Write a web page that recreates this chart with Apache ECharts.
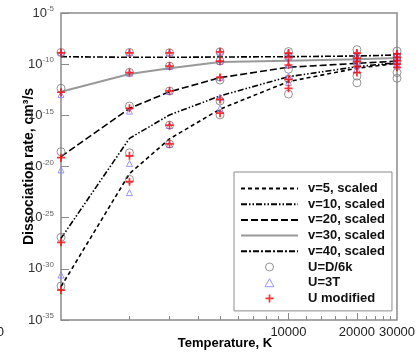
<!DOCTYPE html>
<html>
<head>
<meta charset="utf-8">
<script src="https://cdn.jsdelivr.net/npm/echarts@6/dist/echarts.min.js"></script>
<style>
  html, body { margin: 0; padding: 0; background: #fff; }
  #chart { width: 420px; height: 354px; }
</style>
</head>
<body>
<div id="chart"></div>
<script>
// Temperatures, K
const temperatures = [1000, 2000, 3000, 5000, 10000, 20000, 30000];

// Scaled dissociation-rate curves, cm^3/s, one per vibrational level
const scaledV5  = [1.8e-32, 2.0e-21, 5.0e-18, 4.0e-15, 2.0e-12, 4.0e-11, 1.2e-10];
const scaledV10 = [9.5e-28, 5.6e-18, 1.1e-15, 7.9e-14, 6.0e-12, 5.6e-11, 1.4e-10];
const scaledV20 = [9.1e-20, 4.8e-15, 2.0e-13, 4.8e-12, 5.0e-11, 1.2e-10, 2.0e-10];
const scaledV30 = [2.0e-13, 1.1e-11, 4.0e-11, 1.6e-10, 2.2e-10, 3.0e-10, 4.0e-10];
const scaledV40 = [5.4e-10, 4.7e-10, 4.7e-10, 5.0e-10, 5.4e-10, 6.3e-10, 7.9e-10];

// Rates with U = D/6k
const udV5  = [2.1e-32, 5.6e-22, 1.6e-18, 1.1e-15, 1.2e-13, 1.5e-12, 4.2e-12];
const udV10 = [1.2e-27, 2.2e-19, 1.1e-16, 2.5e-14, 3.5e-12, 6.9e-12, 1.5e-11];
const udV20 = [2.8e-19, 8.1e-15, 2.4e-13, 2.8e-12, 3.2e-11, 1.6e-10, 2.0e-10];
const udV30 = [4.4e-13, 1.6e-11, 6.6e-11, 2.0e-10, 5.5e-10, 4.0e-10, 5.0e-10];
const udV40 = [1.4e-9, 1.4e-9, 1.3e-9, 1.6e-9, 1.7e-9, 2.6e-9, 1.9e-9];

// Rates with U = 3T
const u3tV5  = [2.5e-31, 2.8e-23, 1.4e-18, 4.9e-15, 1.6e-12, 3.2e-11, 7.9e-11];
const u3tV10 = [null, 2.0e-20, 1.0e-16, 5.8e-14, 6.3e-12, 7.9e-11, 1.3e-10];
const u3tV20 = [4.6e-21, 2.6e-15, 2.2e-13, 5.0e-12, 8.3e-11, 2.0e-10, 2.5e-10];
const u3tV30 = [1.1e-13, 1.3e-11, 6.0e-11, 1.9e-10, 5.0e-10, 4.5e-10, 5.0e-10];
const u3tV40 = [1.3e-9, 1.3e-9, 1.3e-9, 1.5e-9, 1.3e-9, 1.3e-9, 1.1e-9];

// Rates with modified U
const umodV5  = [8.5e-33, 3.3e-22, 1.6e-18, 1.6e-15, 4.4e-13, 1.5e-11, 4.9e-11];
const umodV10 = [3.9e-28, 1.1e-19, 1.1e-16, 3.6e-14, 3.3e-12, 5.8e-11, 1.0e-10];
const umodV20 = [7.2e-20, 4.8e-15, 2.4e-13, 5.0e-12, 8.3e-11, 1.8e-10, 2.2e-10];
const umodV30 = [1.8e-13, 1.5e-11, 6.6e-11, 2.0e-10, 4.5e-10, 3.9e-10, 4.7e-10];
const umodV40 = [1.3e-9, 1.3e-9, 1.3e-9, 1.6e-9, 1.2e-9, 1.2e-9, 1.0e-9];

const curveNames = ['v=5, scaled', 'v=10, scaled', 'v=20, scaled', 'v=30, scaled', 'v=40, scaled'];
const markerNames = ['U=D/6k', 'U=3T', 'U modified'];

// Axis ticks and labels
const xLabelValues = [1000, 10000, 20000, 30000];
const xMinorTicks = [2000, 3000, 4000, 5000, 6000, 7000, 8000, 9000,
                     12000, 14000, 16000, 18000, 22000, 24000, 26000, 28000];
const xMajorTicks = [10000, 20000];
const yLabelValues = [1e-35, 1e-30, 1e-25, 1e-20, 1e-15, 1e-10, 1e-5];

const FONT = '"Liberation Sans", Arial, Helvetica, sans-serif';
const GRAY = '#8a8a8a';

const toPoints = vals => temperatures
  .map((t, i) => [t, vals[i]])
  .filter(p => p[1] != null);

const curveSets = [scaledV5, scaledV10, scaledV20, scaledV30, scaledV40];
const curveStyles = [
  { color: '#000', width: 1.6, type: [4, 3] },
  { color: '#000', width: 1.6, type: [6, 2, 1.5, 2, 1.5, 2] },
  { color: '#000', width: 1.6, type: [7, 3] },
  { color: '#999', width: 2, type: 'solid' },
  { color: '#000', width: 1.6, type: [6, 2, 2, 2] }
];

const curveSeries = curveSets.map((vals, i) => ({
  name: curveNames[i],
  type: 'line',
  xAxisIndex: 0,
  data: toPoints(vals),
  symbol: 'none',
  silent: true,
  z: 2,
  lineStyle: curveStyles[i],
  itemStyle: { color: curveStyles[i].color }
}));

const collect = sets => sets.reduce((acc, s) => acc.concat(toPoints(s)), []);

const PLUS = 'path://M3.6,0H5.6V3.6H9.2V5.6H5.6V9.2H3.6V5.6H0V3.6H3.6Z';
const TRIANGLE = 'path://M5,0L10,9H0Z';

const markerSeries = [
  {
    name: markerNames[0], type: 'scatter', xAxisIndex: 0, z: 3,
    data: collect([udV5, udV10, udV20, udV30, udV40]),
    symbol: 'circle', symbolSize: 8,
    itemStyle: { color: 'transparent', borderColor: '#7a7a7a', borderWidth: 1 }
  },
  {
    name: markerNames[1], type: 'scatter', xAxisIndex: 0, z: 4,
    data: collect([u3tV5, u3tV10, u3tV20, u3tV30, u3tV40]),
    symbol: TRIANGLE, symbolSize: 6,
    itemStyle: { color: 'transparent', borderColor: '#7f7fff', borderWidth: 1 }
  },
  {
    name: markerNames[2], type: 'scatter', xAxisIndex: 0, z: 5,
    data: collect([umodV5, umodV10, umodV20, umodV30, umodV40]),
    symbol: PLUS, symbolSize: 8,
    itemStyle: { color: '#ff0000' }
  }
];

const chart = echarts.init(document.getElementById('chart'), null, { renderer: 'canvas' });

chart.setOption({
  animation: false,
  backgroundColor: '#fff',
  textStyle: { fontFamily: FONT },
  grid: {
    left: 61, right: 23, top: 13, bottom: 34,
    outerBoundsMode: 'none',
    containLabel: false,
    show: true, borderColor: GRAY, borderWidth: 1.5, backgroundColor: 'transparent'
  },
  legend: {
    orient: 'vertical',
    left: 234, top: 172,
    padding: [10, 7, 6, 6],
    itemGap: 2.7,
    itemWidth: 57, itemHeight: 8,
    borderColor: GRAY, borderWidth: 1,
    backgroundColor: '#fff',
    textStyle: { fontFamily: FONT, fontSize: 13, fontWeight: 'bold', color: '#111', padding: [0, 0, 0, 5] },
    data: curveNames.map(n => ({
      name: n,
      itemStyle: { color: 'transparent', borderColor: 'transparent', borderWidth: 0, opacity: 0 }
    })).concat([
      { name: markerNames[0], icon: 'circle',
        itemStyle: { color: 'transparent', borderColor: '#7a7a7a', borderWidth: 1 } },
      { name: markerNames[1], icon: TRIANGLE,
        itemStyle: { color: 'transparent', borderColor: '#7f7fff', borderWidth: 1 } },
      { name: markerNames[2], icon: PLUS, itemStyle: { color: '#ff0000' } }
    ])
  },
  xAxis: [
    {
      type: 'log', logBase: 10, min: 1000, max: 30000,
      position: 'bottom',
      axisLine: { show: false },
      splitLine: { show: false },
      axisTick: {
        show: true, inside: true, length: 4,
        customValues: xMinorTicks,
        lineStyle: { color: GRAY, width: 1 }
      },
      axisLabel: {
        customValues: xLabelValues,
        margin: 6,
        fontSize: 13, color: '#222', fontFamily: FONT,
        formatter: v => (Math.round(v) === 1000 ? '{edge|' + v + '}' : String(Math.round(v))),
        rich: { edge: { fontSize: 13, color: '#222', padding: [0, 143, 0, 0] } }
      },
      name: 'Temperature, K',
      nameLocation: 'middle',
      nameGap: 17,
      nameMoveOverlap: false,
      nameTextStyle: { fontFamily: FONT, fontSize: 13, fontWeight: 'bold', color: '#000', padding: [0, 8, 0, 0] }
    },
    {
      type: 'log', logBase: 10, min: 1000, max: 30000,
      position: 'bottom',
      axisLine: { show: false },
      splitLine: { show: false },
      axisLabel: { show: false },
      axisTick: {
        show: true, inside: true, length: 7,
        customValues: xMajorTicks,
        lineStyle: { color: GRAY, width: 1 }
      }
    }
  ],
  yAxis: {
    type: 'log', logBase: 10, min: 1e-35, max: 1e-5,
    axisLine: { show: false },
    splitLine: { show: false },
    axisTick: {
      show: true, inside: true, length: 8,
      customValues: yLabelValues,
      lineStyle: { color: GRAY, width: 1 }
    },
    axisLabel: {
      customValues: yLabelValues,
      margin: 7,
      formatter: v => '{b|10}{s|' + Math.round(Math.log10(v)) + '}',
      rich: {
        b: { fontSize: 13, color: '#333', fontFamily: FONT },
        s: { fontSize: 8, color: '#666', fontFamily: FONT, padding: [0, 0, 8, 0] }
      }
    },
    name: 'Dissociation rate, cm³/s',
    nameLocation: 'middle',
    nameGap: 25,
    nameMoveOverlap: false,
    nameTextStyle: { fontFamily: FONT, fontSize: 14, fontWeight: 'bold', color: '#000' }
  },
  series: curveSeries.concat(markerSeries)
});
</script>
</body>
</html>
